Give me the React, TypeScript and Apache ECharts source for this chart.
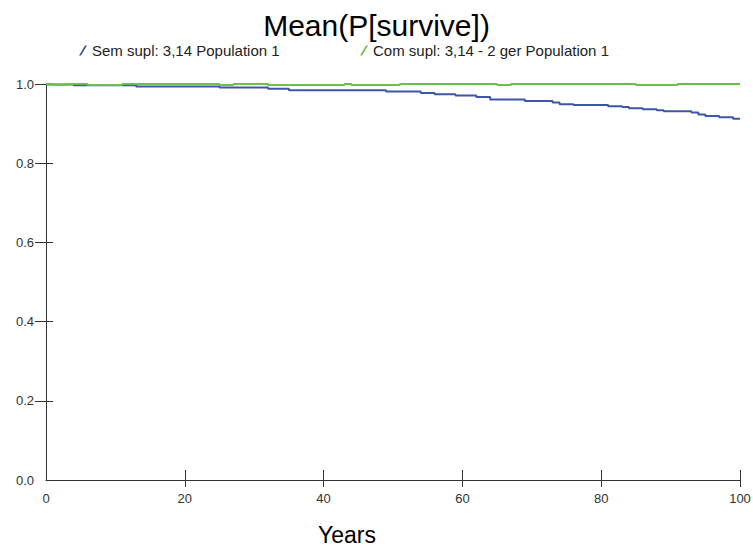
import React, { useEffect, useRef } from "react";
import * as echarts from "echarts";

const titleText = "Mean(P[survive])";
const xAxisName = "Years";
const seriesNames = ["Sem supl: 3,14 Population 1", "Com supl: 3,14 - 2 ger Population 1"];

// step breakpoints (year) and value held from that year until the next breakpoint
const semYears = [0, 4, 13, 25, 32, 35, 49, 54, 56, 59, 62, 64, 69, 73, 74, 76, 81, 83, 84, 86, 88, 89, 93, 94, 95, 97, 99, 100];
const semValues = [0.999, 0.997, 0.994, 0.991, 0.988, 0.984, 0.981, 0.977, 0.974, 0.971, 0.967, 0.961, 0.957, 0.953, 0.949, 0.947, 0.944, 0.942, 0.939, 0.936, 0.934, 0.931, 0.928, 0.923, 0.919, 0.916, 0.912, 0.912];

const comYears = [0, 1, 3, 6, 11, 25, 27, 32, 43, 44, 51, 65, 67, 85, 91, 100];
const comValues = [1.0, 0.9975, 1.0, 0.9975, 1.0, 0.9975, 1.0, 0.9975, 1.0, 0.9975, 1.0, 0.9975, 1.0, 0.9975, 1.0, 1.0];

const xTicks = [20, 40, 60, 80, 100];
const yTicks = [0.2, 0.4, 0.6, 0.8, 1.0];

const colors = ["#3d55aa", "#6cc04a"];
const FONT = "'Liberation Sans', Arial, sans-serif";

export default function App() {
  const ref = useRef<HTMLDivElement>(null);
  useEffect(() => {
    if (!ref.current) return;
    const chart = echarts.init(ref.current, null, { renderer: "svg" });
    const icon = "path://M0,10L2,10L8,0L6,0Z";
    const legendBase = {
      top: 43,
      padding: 0,
      icon,
      itemWidth: 8,
      itemHeight: 10,
      itemGap: 5,
      textStyle: { fontFamily: FONT, fontSize: 15, color: "#222" },
    };
    const axisLabelStyle = { fontFamily: FONT, fontSize: 13, color: "#333" };
    const lineStyle = { color: "#333", width: 1 };
    chart.setOption({
      animation: false,
      color: colors,
      title: {
        text: titleText,
        left: "center",
        top: 5,
        textStyle: { fontFamily: FONT, fontSize: 30, fontWeight: "normal", color: "#000" },
      },
      legend: [
        { ...legendBase, left: 79, data: [seriesNames[0]] },
        { ...legendBase, left: 360, data: [seriesNames[1]] },
      ],
      grid: { left: 46, right: 13, top: 84, bottom: 70, outerBoundsMode: "none", containLabel: false },
      xAxis: [
        {
          type: "value",
          min: 0,
          max: 100,
          interval: 20,
          position: "bottom",
          name: xAxisName,
          nameLocation: "middle",
          nameGap: 43,
          nameTextStyle: { fontFamily: FONT, fontSize: 23, color: "#000", padding: [0, 92, 0, 0] },
          axisLine: { show: true, lineStyle },
          axisTick: { show: true, length: 7, customValues: xTicks, lineStyle },
          axisLabel: { ...axisLabelStyle, margin: 12 },
          splitLine: { show: false },
        },
        {
          type: "value",
          min: 0,
          max: 100,
          interval: 20,
          position: "bottom",
          axisLine: { show: false },
          axisTick: { show: true, inside: true, length: 10, customValues: xTicks, lineStyle },
          axisLabel: { show: false },
          splitLine: { show: false },
        },
      ],
      yAxis: [
        {
          type: "value",
          min: 0,
          max: 1,
          interval: 0.2,
          position: "left",
          axisLine: { show: true, lineStyle },
          axisTick: { show: true, length: 11, customValues: yTicks, lineStyle },
          axisLabel: { ...axisLabelStyle, margin: 12, formatter: (v: number) => v.toFixed(1) },
          splitLine: { show: false },
        },
        {
          type: "value",
          min: 0,
          max: 1,
          interval: 0.2,
          position: "left",
          axisLine: { show: false },
          axisTick: { show: true, inside: true, length: 7, customValues: yTicks, lineStyle },
          axisLabel: { show: false },
          splitLine: { show: false },
        },
      ],
      series: [
        {
          name: seriesNames[0],
          type: "line",
          step: "end",
          showSymbol: false,
          symbol: "none",
          lineStyle: { width: 2, color: colors[0] },
          data: semYears.map((y, i) => [y, semValues[i]]),
        },
        {
          name: seriesNames[1],
          type: "line",
          step: "end",
          showSymbol: false,
          symbol: "none",
          lineStyle: { width: 2, color: colors[1] },
          data: comYears.map((y, i) => [y, comValues[i]]),
        },
      ],
    });
    return () => chart.dispose();
  }, []);
  return (
    <div
      ref={ref}
      style={{ position: "fixed", left: 0, top: 0, width: 753, height: 550, background: "#fff" }}
    />
  );
}
